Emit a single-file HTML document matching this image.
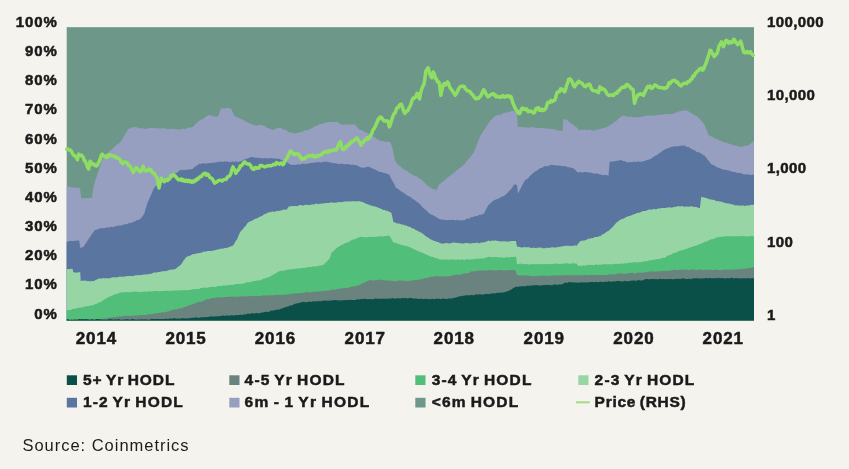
<!DOCTYPE html>
<html><head><meta charset="utf-8"><title>HODL waves</title>
<style>
html,body{margin:0;padding:0;}
body{width:849px;height:469px;background:#f4f3ed;position:relative;overflow:hidden;font-family:"Liberation Sans",sans-serif;color:#1a1a1a;}
.yl{position:absolute;left:0;width:57.7px;text-align:right;font-weight:bold;font-size:15px;letter-spacing:0.9px;line-height:20px;height:20px;}
.yr{position:absolute;left:767px;text-align:left;font-weight:bold;font-size:15px;letter-spacing:0.38px;line-height:20px;height:20px;white-space:nowrap;}
.xl{position:absolute;top:328.8px;width:60px;text-align:center;font-weight:bold;font-size:17px;line-height:20px;letter-spacing:0.85px;}
.yl,.yr,.xl,.lt{-webkit-text-stroke:0.5px #1a1a1a;}
.sq{position:absolute;width:10px;height:10px;}
.lt{position:absolute;font-weight:bold;font-size:15.5px;word-spacing:-1.5px;line-height:20px;white-space:nowrap;transform-origin:0 50%;}
.src{position:absolute;left:22.5px;top:434.5px;font-size:16.5px;letter-spacing:0.97px;line-height:20px;white-space:nowrap;transform-origin:0 50%;color:#1c1c1c;}
#w{position:absolute;left:0;top:0;width:849px;height:469px;filter:blur(0.45px);}
</style></head><body><div id="w">
<svg width="849" height="469" viewBox="0 0 849 469" style="position:absolute;left:0;top:0"><rect x="66.7" y="27.2" width="687.3" height="293.3" fill="#6d9788"/><path d="M66.7,320.5 L66.7,186.4 L67.8,186.2 L69.2,186.7 L70.5,186.9 L71.9,187.5 L73.2,187.5 L74.6,187.6 L76.0,187.7 L77.3,187.4 L78.7,188.2 L80.0,188.0 L81.2,198.3 L82.5,198.2 L83.8,198.4 L85.2,197.9 L86.5,198.1 L87.8,198.6 L89.2,198.0 L90.5,197.9 L91.8,198.3 L93.5,187.0 L94.0,185.0 L95.3,180.6 L96.7,176.4 L98.1,172.2 L99.4,168.0 L100.8,164.2 L102.3,160.0 L103.7,156.5 L105.2,154.8 L106.6,153.8 L108.1,152.4 L109.5,151.3 L111.0,150.0 L112.3,148.9 L113.7,147.8 L115.0,146.4 L116.4,145.1 L117.8,144.2 L119.1,143.2 L120.5,141.8 L121.8,140.5 L123.4,137.1 L125.0,134.5 L126.6,132.1 L128.2,128.8 L129.5,128.8 L130.9,127.9 L132.2,127.4 L133.6,127.3 L134.9,127.0 L136.2,127.3 L137.5,127.4 L138.8,128.4 L140.1,128.5 L141.4,128.2 L142.7,128.0 L144.0,129.0 L145.3,128.8 L146.9,128.6 L148.5,128.6 L150.1,127.8 L151.7,127.7 L153.1,128.1 L154.4,128.2 L155.8,128.2 L157.1,128.3 L158.5,128.4 L159.8,128.3 L161.2,128.8 L162.5,128.1 L163.9,128.5 L165.2,128.6 L166.6,128.8 L168.0,128.9 L169.4,129.2 L170.9,128.6 L172.3,129.0 L173.7,129.1 L175.1,129.1 L176.6,129.4 L178.0,129.5 L179.4,129.4 L180.8,129.3 L182.2,128.9 L183.7,128.6 L185.1,128.9 L186.5,128.5 L187.9,128.1 L189.4,127.4 L190.8,127.4 L192.2,127.3 L193.8,126.0 L195.4,124.0 L197.0,122.7 L198.6,121.3 L199.9,120.5 L201.2,119.4 L202.6,119.2 L203.9,118.5 L205.2,117.2 L206.5,116.3 L207.9,115.6 L209.2,115.0 L210.6,115.5 L212.1,115.4 L213.5,116.2 L214.9,116.7 L216.4,116.3 L217.8,117.0 L219.4,112.9 L221.0,108.5 L222.4,108.6 L223.7,108.5 L225.1,108.4 L226.5,108.0 L227.9,107.8 L229.2,108.4 L230.6,108.0 L232.0,110.4 L233.4,113.7 L234.8,116.0 L236.5,117.1 L238.3,117.6 L240.0,118.5 L241.4,119.2 L242.8,119.8 L244.2,120.5 L245.7,121.8 L247.1,121.9 L248.5,123.0 L250.0,123.3 L251.5,124.5 L253.0,124.4 L254.5,125.2 L256.0,125.6 L257.3,125.4 L258.6,125.2 L260.0,125.1 L261.3,124.5 L262.6,125.4 L264.0,125.7 L265.3,126.4 L266.6,127.6 L268.0,128.2 L269.3,128.5 L270.7,129.0 L272.0,129.9 L273.5,129.4 L275.0,129.3 L276.4,128.3 L277.9,127.7 L279.4,127.7 L280.7,127.9 L282.0,128.5 L283.3,129.7 L284.6,129.6 L286.0,130.1 L287.3,131.2 L288.6,131.9 L289.9,132.5 L291.2,132.6 L292.8,133.2 L294.4,133.4 L296.0,133.2 L297.4,133.1 L298.8,132.8 L300.2,132.0 L301.6,131.9 L303.0,131.2 L304.4,130.4 L305.8,130.1 L307.3,130.3 L308.7,129.4 L310.1,129.0 L311.5,128.3 L312.9,127.7 L314.4,126.8 L315.8,125.7 L317.2,125.7 L318.6,124.7 L320.0,124.0 L321.4,124.3 L322.8,123.6 L324.3,123.1 L325.7,123.1 L327.1,122.2 L328.5,121.9 L329.9,122.1 L331.3,121.6 L332.8,122.2 L334.2,121.7 L335.6,122.2 L337.0,121.9 L338.4,122.5 L339.8,123.6 L341.2,124.4 L342.6,124.7 L344.0,124.4 L345.4,124.6 L346.9,125.1 L348.3,124.6 L349.7,124.3 L351.1,124.5 L352.6,124.6 L354.0,124.6 L355.4,124.7 L356.8,126.5 L358.2,128.2 L359.6,129.7 L361.0,129.9 L362.4,130.5 L363.9,131.2 L365.3,132.4 L366.7,132.4 L368.1,133.2 L369.5,134.3 L370.9,135.1 L372.3,135.6 L373.7,137.0 L375.1,137.5 L376.5,138.7 L378.0,139.6 L379.4,140.6 L380.8,141.0 L382.2,141.2 L383.6,141.0 L385.0,142.0 L386.5,141.4 L387.9,141.7 L389.3,142.0 L390.7,142.4 L392.8,149.5 L394.9,160.0 L396.7,163.5 L398.0,164.6 L399.4,165.9 L400.7,166.6 L402.0,168.2 L403.4,168.9 L404.9,170.1 L406.3,170.6 L407.7,171.6 L409.2,172.9 L410.6,173.6 L411.9,174.3 L413.3,175.3 L414.6,176.1 L416.0,176.0 L417.3,176.7 L418.7,178.2 L420.0,178.5 L421.4,179.7 L422.8,181.1 L424.2,182.1 L425.7,184.1 L427.1,185.1 L428.5,186.4 L430.0,187.3 L431.5,188.3 L433.0,189.1 L434.5,189.3 L436.0,190.6 L437.6,187.7 L439.2,184.2 L440.5,183.4 L441.9,182.3 L443.2,181.3 L444.5,180.4 L445.9,178.7 L447.2,178.1 L448.6,176.7 L449.9,175.7 L451.3,175.0 L452.7,173.7 L454.1,172.6 L455.5,171.6 L457.0,170.1 L458.4,169.1 L459.8,168.0 L461.2,166.9 L462.6,166.1 L463.9,164.3 L465.3,163.2 L466.6,161.1 L468.0,159.5 L469.3,158.3 L470.6,156.6 L472.0,154.7 L473.3,153.3 L474.9,149.7 L476.5,145.5 L478.1,141.3 L479.7,137.3 L481.1,134.6 L482.5,132.7 L483.9,130.1 L485.4,128.2 L486.8,126.1 L488.2,123.5 L489.8,121.4 L491.4,119.4 L493.0,117.9 L494.6,116.0 L495.9,115.9 L497.3,114.8 L498.6,115.1 L500.0,114.8 L501.3,114.4 L502.6,113.3 L504.0,112.8 L505.3,112.8 L506.7,112.6 L508.1,112.0 L509.5,112.1 L511.0,111.1 L512.4,111.3 L513.8,110.7 L515.4,112.1 L517.0,112.8 L517.7,126.7 L519.2,126.9 L520.6,127.0 L522.1,126.8 L523.5,127.2 L525.0,127.2 L526.3,127.7 L527.6,127.4 L528.9,127.7 L530.3,127.0 L531.6,127.4 L532.9,127.1 L534.2,127.8 L535.5,127.7 L536.8,128.1 L538.1,127.5 L539.5,128.2 L540.8,128.1 L542.1,128.0 L543.4,127.9 L544.8,128.4 L546.2,128.6 L547.6,128.4 L549.1,128.6 L550.5,129.3 L551.9,128.8 L553.3,129.3 L554.8,129.3 L556.4,130.2 L557.9,130.3 L559.5,130.5 L561.0,131.0 L562.6,131.0 L563.2,119.4 L564.6,119.3 L566.0,119.6 L567.4,120.1 L568.8,121.5 L570.2,122.7 L571.7,123.9 L573.1,125.1 L574.9,126.3 L576.6,127.2 L578.7,130.0 L580.0,130.3 L581.3,129.6 L582.6,130.3 L583.9,129.6 L585.2,129.8 L586.5,130.3 L587.9,129.6 L589.2,129.8 L590.5,130.0 L591.8,130.4 L593.1,130.4 L594.4,130.4 L595.7,130.0 L597.1,129.7 L598.5,129.6 L599.9,129.0 L601.4,128.6 L602.8,128.3 L604.2,127.8 L605.6,127.6 L607.0,127.2 L608.4,125.9 L609.8,125.2 L611.2,124.5 L612.7,123.5 L614.1,122.3 L615.5,121.5 L616.9,120.4 L618.3,118.7 L619.7,117.7 L621.1,116.8 L622.5,115.2 L623.9,115.9 L625.4,116.0 L626.8,116.6 L628.2,116.8 L629.6,116.9 L631.0,116.5 L632.5,117.2 L633.9,117.2 L635.3,117.1 L636.7,117.4 L638.1,117.3 L639.5,116.8 L640.9,117.1 L642.2,116.7 L643.6,116.4 L645.0,115.9 L646.5,115.7 L648.0,115.5 L649.5,115.4 L651.0,115.7 L652.5,115.6 L654.0,115.3 L655.4,115.6 L656.9,115.2 L658.3,114.8 L659.7,114.5 L661.1,114.9 L662.6,114.5 L664.0,114.5 L665.5,114.1 L666.9,114.2 L668.4,114.4 L669.8,113.9 L671.3,114.0 L672.7,113.9 L674.1,113.2 L675.5,112.4 L676.8,112.4 L678.2,111.5 L679.6,111.6 L681.0,111.0 L682.6,110.6 L684.2,110.6 L685.8,110.5 L687.4,110.7 L688.7,111.3 L690.0,112.6 L691.4,113.4 L692.7,113.8 L694.0,114.9 L695.4,115.7 L696.7,116.3 L698.0,117.0 L699.3,118.8 L700.6,120.3 L701.9,121.6 L703.2,123.0 L704.5,124.5 L706.5,129.9 L708.4,135.1 L710.9,136.2 L712.3,136.9 L713.7,137.5 L715.1,138.6 L716.6,138.9 L718.0,139.6 L719.4,140.5 L720.8,140.8 L722.2,141.4 L723.7,142.4 L725.1,142.6 L726.5,142.8 L727.9,143.0 L729.4,144.0 L730.8,144.0 L732.2,144.8 L733.6,145.2 L735.0,145.4 L736.5,145.8 L737.9,146.2 L739.3,146.2 L740.7,146.9 L742.1,147.0 L743.6,146.0 L745.0,146.0 L746.4,145.4 L747.9,145.4 L749.3,144.8 L750.9,143.3 L752.4,142.4 L754.0,140.5 L754.0,320.5Z" fill="#979fc1"/><path d="M66.7,320.5 L66.7,241.5 L67.9,241.7 L69.3,241.1 L70.7,241.1 L72.1,240.7 L73.6,241.3 L75.0,240.5 L76.4,240.8 L77.8,240.6 L79.2,240.4 L80.3,247.9 L81.9,247.5 L83.5,246.8 L85.1,244.3 L86.7,241.9 L88.3,239.5 L89.9,237.2 L91.2,235.0 L92.6,233.3 L93.9,231.4 L95.2,229.8 L96.7,229.8 L98.2,229.2 L99.6,228.5 L101.1,228.2 L102.6,228.3 L103.9,227.9 L105.2,228.3 L106.5,227.2 L107.9,227.4 L109.2,227.5 L110.5,226.7 L111.8,227.1 L113.1,226.9 L114.4,226.7 L115.8,225.8 L117.1,226.3 L118.4,225.5 L119.7,225.5 L121.1,225.4 L122.5,225.1 L124.0,224.5 L125.4,224.3 L126.8,224.0 L128.2,223.6 L129.7,222.8 L131.1,223.1 L132.5,222.3 L134.0,221.8 L135.5,220.9 L137.0,220.0 L138.5,220.0 L140.0,219.1 L141.4,217.8 L142.8,215.9 L144.2,213.8 L145.8,208.6 L147.4,203.1 L148.8,200.1 L150.3,196.6 L151.7,193.5 L153.3,189.6 L154.9,186.4 L156.4,185.9 L157.9,184.9 L159.3,183.8 L160.8,183.2 L162.3,182.0 L163.7,180.8 L165.1,179.8 L166.5,179.0 L167.9,178.6 L169.4,177.2 L170.8,176.0 L172.2,175.2 L173.6,174.2 L175.0,173.6 L176.5,172.9 L177.9,171.9 L179.4,170.4 L180.8,169.9 L182.2,170.3 L183.7,169.8 L185.1,170.2 L186.5,169.6 L187.9,169.9 L189.4,169.1 L190.8,169.5 L192.2,169.3 L193.8,167.9 L195.4,166.3 L197.0,165.7 L198.6,164.0 L199.9,163.8 L201.2,164.0 L202.5,163.3 L203.8,163.3 L205.1,163.7 L206.4,163.3 L207.7,163.5 L209.0,163.0 L210.3,163.0 L211.6,163.2 L212.9,162.5 L214.2,162.5 L215.5,162.8 L216.8,161.9 L218.1,162.2 L219.4,161.6 L220.7,161.7 L222.0,161.8 L223.4,161.7 L224.8,161.5 L226.2,161.4 L227.5,161.4 L228.9,161.9 L230.3,162.0 L231.7,161.8 L233.1,161.5 L234.5,161.9 L235.8,161.2 L237.2,161.9 L238.6,161.7 L240.0,161.6 L241.3,161.0 L242.7,160.6 L244.0,159.6 L245.3,159.3 L246.7,158.8 L248.0,158.2 L249.4,157.7 L250.7,157.1 L252.0,157.1 L253.3,157.4 L254.7,157.3 L256.0,157.9 L257.3,157.4 L258.6,158.0 L260.0,157.9 L261.3,158.0 L262.6,158.4 L263.9,158.3 L265.2,158.1 L266.6,158.6 L267.9,158.5 L269.2,158.0 L270.5,158.2 L271.8,158.1 L273.1,158.4 L274.5,158.5 L275.8,158.5 L277.1,158.9 L278.4,158.6 L279.9,159.1 L281.4,160.2 L282.8,160.5 L284.3,161.3 L285.8,161.8 L287.1,162.3 L288.5,163.6 L289.9,164.0 L291.2,165.0 L292.5,165.1 L293.9,164.6 L295.2,164.9 L296.5,164.7 L297.8,164.0 L299.1,164.5 L300.5,164.2 L301.8,164.0 L303.1,163.5 L304.5,163.9 L305.8,163.6 L307.1,163.9 L308.5,163.4 L309.8,162.9 L311.2,163.1 L312.5,162.9 L313.9,162.4 L315.3,162.4 L316.8,162.2 L318.2,162.0 L319.6,162.3 L321.0,162.6 L322.5,162.0 L323.9,161.7 L325.3,161.8 L326.6,161.6 L328.0,162.2 L329.3,162.3 L330.6,162.3 L332.0,163.1 L333.3,163.3 L334.7,162.9 L336.0,163.5 L337.4,163.7 L338.7,163.7 L340.1,164.2 L341.5,163.6 L342.8,163.7 L344.2,164.4 L345.6,164.0 L346.9,164.3 L348.3,164.1 L349.6,164.3 L351.0,165.0 L352.4,164.5 L353.7,165.1 L355.1,165.0 L356.6,165.3 L358.1,166.3 L359.6,166.8 L361.1,167.5 L362.6,167.8 L364.0,167.7 L365.3,167.2 L366.6,167.2 L368.0,166.5 L369.3,167.0 L370.6,167.6 L372.0,168.5 L373.3,168.7 L374.6,169.4 L376.0,169.8 L377.3,170.9 L378.6,171.4 L379.9,171.8 L381.3,172.1 L382.6,172.5 L384.0,172.9 L385.3,173.2 L386.6,173.7 L388.0,174.2 L389.3,174.6 L390.9,178.2 L392.5,181.0 L394.1,183.8 L395.7,187.4 L397.3,188.6 L398.9,189.5 L400.4,191.0 L402.0,191.7 L403.6,193.0 L405.2,193.8 L406.8,195.2 L408.4,196.0 L410.0,196.7 L411.6,197.9 L413.2,199.2 L414.8,200.0 L416.5,201.8 L418.3,202.8 L420.0,204.2 L421.4,205.9 L422.8,207.4 L424.2,208.7 L425.7,209.7 L427.1,211.0 L428.5,212.7 L429.8,213.7 L431.2,214.5 L432.5,214.9 L433.9,215.7 L435.2,216.6 L436.5,217.3 L437.9,218.0 L439.2,219.1 L440.5,219.6 L441.9,219.5 L443.2,219.4 L444.5,220.0 L445.9,219.9 L447.2,220.2 L448.6,219.8 L449.9,220.2 L451.3,219.8 L452.7,219.9 L454.1,219.8 L455.5,220.5 L457.0,219.8 L458.4,220.5 L459.8,220.6 L461.2,220.2 L462.6,220.2 L463.9,220.2 L465.3,219.7 L466.6,218.6 L468.0,218.8 L469.3,218.4 L470.6,217.5 L472.0,217.0 L473.3,217.0 L474.6,216.2 L476.0,216.0 L477.3,216.2 L478.6,215.1 L480.0,214.8 L481.3,214.8 L482.7,214.3 L484.0,213.8 L485.4,210.6 L486.8,207.9 L488.2,205.3 L489.8,204.0 L491.4,202.4 L493.0,201.1 L494.6,200.0 L495.9,199.4 L497.3,199.0 L498.6,198.5 L500.0,197.7 L501.3,196.7 L502.6,196.6 L504.0,195.9 L505.3,194.9 L506.6,193.8 L508.0,192.3 L509.3,190.8 L510.6,189.5 L512.0,188.0 L513.5,185.6 L514.9,184.2 L517.0,185.0 L518.0,193.8 L519.4,191.0 L520.9,188.0 L522.3,185.0 L524.5,181.0 L525.8,179.5 L527.1,179.0 L528.5,177.7 L529.8,176.1 L531.1,175.1 L532.5,173.5 L533.8,172.5 L535.1,171.4 L536.5,170.7 L538.0,170.0 L539.4,168.5 L540.8,167.9 L542.3,167.7 L543.7,166.5 L545.1,166.0 L546.5,166.2 L548.0,166.1 L549.4,165.5 L550.8,164.8 L552.2,165.0 L553.6,165.1 L555.0,165.3 L556.5,165.6 L557.9,165.5 L559.3,165.6 L560.7,165.8 L562.2,166.0 L563.6,166.2 L565.0,166.1 L566.4,166.7 L567.8,167.0 L569.2,167.3 L570.7,167.7 L572.1,167.9 L573.5,168.2 L574.9,169.6 L576.4,171.3 L577.8,172.5 L579.2,172.2 L580.6,172.1 L582.0,172.6 L583.5,172.3 L584.9,172.0 L586.3,172.0 L587.7,172.2 L589.0,172.4 L590.4,172.7 L591.8,172.7 L593.1,173.6 L594.5,173.8 L595.9,173.6 L597.3,173.6 L598.6,173.9 L600.0,174.4 L601.4,174.4 L602.8,175.2 L604.2,174.9 L605.7,175.0 L607.1,175.2 L608.5,175.7 L609.6,161.8 L611.1,161.6 L612.5,161.7 L614.0,161.3 L615.5,160.9 L616.9,160.7 L618.4,160.4 L619.8,160.2 L621.3,160.0 L622.9,161.0 L624.5,161.0 L626.1,162.0 L627.7,162.3 L629.1,162.5 L630.4,162.1 L631.8,162.2 L633.1,162.0 L634.5,161.6 L635.8,162.0 L637.2,161.6 L638.5,161.6 L639.9,161.8 L641.2,161.7 L642.6,161.4 L644.0,160.9 L645.5,160.8 L646.9,159.9 L648.3,159.6 L649.8,159.4 L651.2,158.6 L652.6,157.6 L654.0,156.8 L655.5,155.6 L656.9,155.2 L658.3,153.8 L659.7,153.0 L661.2,152.1 L662.6,150.7 L664.0,150.0 L665.4,149.2 L666.8,148.5 L668.2,148.4 L669.7,147.3 L671.1,147.3 L672.5,146.5 L673.9,146.7 L675.3,146.1 L676.8,146.6 L678.2,146.2 L679.6,146.0 L681.0,145.6 L682.5,145.7 L683.9,145.6 L685.3,145.8 L686.7,146.9 L688.1,146.8 L689.5,147.7 L691.0,148.4 L692.4,149.4 L693.8,150.0 L695.1,150.4 L696.5,151.7 L697.8,152.3 L699.1,152.6 L700.5,153.0 L701.8,153.9 L703.2,154.9 L704.5,155.4 L706.1,157.4 L707.7,159.8 L709.3,161.5 L710.9,164.0 L712.3,164.4 L713.7,165.4 L715.1,165.8 L716.6,167.2 L718.0,167.4 L719.4,168.2 L720.8,168.6 L722.2,169.3 L723.7,169.5 L725.1,170.0 L726.5,169.8 L727.9,170.4 L729.4,170.5 L730.8,171.4 L732.2,171.4 L733.6,172.1 L735.0,172.0 L736.5,172.7 L737.9,172.7 L739.3,172.9 L740.7,173.1 L742.2,173.7 L743.6,174.3 L745.0,174.6 L746.5,174.3 L748.0,174.5 L749.5,174.6 L751.0,175.3 L752.5,174.5 L754.0,175.0 L754.0,320.5Z" fill="#5a759f"/><path d="M66.7,320.5 L66.7,269.2 L68.1,269.0 L69.7,269.3 L71.2,268.8 L72.8,269.2 L73.2,272.0 L74.6,272.5 L76.0,272.4 L77.5,272.7 L78.9,272.1 L80.3,272.4 L80.7,281.0 L82.0,280.7 L83.4,280.6 L84.7,280.7 L86.1,280.6 L87.4,281.2 L88.7,280.9 L90.1,281.3 L91.4,281.2 L92.8,280.9 L94.1,281.0 L95.5,280.0 L97.0,279.4 L98.4,278.8 L99.7,278.3 L101.1,278.7 L102.4,278.2 L103.8,278.0 L105.1,278.6 L106.5,278.1 L107.8,278.4 L109.2,278.3 L110.5,278.0 L111.9,277.5 L113.2,277.3 L114.6,277.2 L115.9,277.6 L117.3,277.3 L118.6,277.0 L120.0,276.6 L121.3,276.8 L122.7,276.7 L124.0,276.7 L125.3,276.2 L126.7,276.2 L128.0,276.1 L129.3,276.1 L130.7,276.0 L132.0,276.0 L133.3,276.1 L134.7,275.5 L136.0,275.2 L137.3,275.2 L138.6,275.0 L140.0,275.2 L141.3,275.0 L142.6,274.7 L144.0,274.4 L145.3,274.6 L146.6,274.6 L147.9,274.2 L149.2,274.0 L150.5,273.8 L151.8,273.7 L153.1,272.7 L154.5,272.6 L155.8,272.6 L157.1,272.6 L158.4,272.1 L159.7,271.9 L161.0,271.5 L162.3,271.4 L163.7,270.9 L165.1,271.2 L166.6,271.1 L168.0,270.4 L169.4,270.1 L170.8,269.6 L172.3,269.8 L173.7,269.2 L175.1,269.2 L176.4,268.3 L177.8,266.9 L179.2,266.0 L180.5,265.0 L181.8,263.5 L183.2,261.1 L184.5,259.4 L185.8,257.5 L187.4,256.5 L189.0,255.9 L190.6,255.4 L192.2,254.3 L193.5,254.0 L194.8,254.2 L196.1,253.5 L197.5,253.3 L198.8,253.2 L200.1,252.8 L201.4,252.7 L202.7,252.1 L204.0,251.6 L205.4,251.8 L206.7,251.2 L208.0,251.1 L209.3,251.1 L210.6,250.9 L211.9,250.8 L213.2,250.7 L214.5,250.3 L215.8,249.9 L217.1,249.5 L218.5,249.4 L219.8,248.9 L221.1,248.5 L222.4,248.7 L223.7,248.5 L225.0,248.0 L226.3,247.9 L227.9,247.6 L229.5,246.9 L231.1,246.2 L232.7,245.8 L234.1,244.0 L235.6,241.1 L237.0,239.4 L238.5,235.7 L240.0,232.5 L241.4,230.6 L242.8,229.3 L244.2,227.2 L245.7,226.1 L247.1,223.6 L248.5,222.3 L249.8,221.6 L251.2,220.9 L252.5,220.5 L253.8,219.4 L255.2,218.7 L256.5,218.5 L257.9,217.9 L259.2,217.0 L260.6,216.4 L262.0,215.9 L263.4,214.8 L264.9,214.1 L266.3,213.4 L267.7,212.7 L269.1,212.1 L270.4,212.5 L271.8,211.6 L273.2,211.4 L274.6,211.9 L275.9,211.3 L277.3,210.8 L278.7,211.2 L280.0,210.4 L281.4,210.4 L282.8,209.7 L284.2,209.6 L285.5,209.7 L286.9,209.5 L289.0,206.3 L290.4,206.4 L291.7,205.8 L293.1,206.3 L294.5,206.1 L295.8,206.0 L297.2,206.2 L298.5,205.6 L299.9,205.1 L301.3,205.1 L302.6,205.7 L304.0,205.3 L305.3,204.8 L306.7,204.8 L308.0,205.0 L309.3,205.0 L310.7,204.8 L312.0,204.5 L313.3,204.2 L314.6,204.6 L316.0,203.6 L317.3,203.7 L318.6,204.2 L320.0,203.4 L321.3,203.8 L322.6,203.5 L324.0,203.4 L325.3,203.1 L326.6,203.1 L328.0,202.9 L329.3,203.1 L330.6,202.3 L332.0,202.4 L333.3,202.8 L334.6,202.7 L336.0,202.5 L337.3,202.4 L338.6,202.0 L339.9,202.2 L341.3,202.0 L342.6,202.2 L343.9,201.5 L345.3,201.5 L346.6,201.6 L348.0,201.4 L349.4,201.2 L350.9,201.6 L352.3,201.3 L353.7,200.9 L355.1,201.6 L356.6,201.2 L358.0,201.4 L359.4,201.0 L360.8,201.8 L362.3,202.0 L363.7,202.4 L365.1,203.2 L366.6,204.1 L368.0,204.2 L369.4,204.9 L370.8,205.6 L372.2,205.7 L373.6,206.2 L375.1,206.4 L376.5,207.1 L377.9,207.6 L379.3,208.3 L380.7,208.5 L382.0,209.3 L383.4,209.9 L384.7,209.9 L386.0,210.7 L387.4,210.7 L388.7,211.5 L390.1,212.3 L391.4,212.7 L393.5,222.3 L394.9,222.2 L396.3,223.3 L397.8,223.4 L399.2,223.5 L400.6,224.0 L402.0,224.7 L403.5,224.4 L404.9,225.5 L406.3,225.5 L407.7,226.3 L409.0,226.8 L410.4,227.1 L411.8,228.2 L413.1,228.4 L414.5,229.0 L415.9,230.3 L417.3,230.5 L418.6,231.5 L420.0,231.9 L421.3,232.8 L422.7,233.8 L424.0,234.6 L425.4,235.9 L426.7,236.8 L428.0,237.4 L429.4,238.5 L430.7,239.4 L432.0,239.7 L433.4,240.8 L434.7,240.9 L436.0,241.6 L437.3,242.1 L438.6,242.2 L440.0,242.9 L441.3,243.6 L442.7,243.7 L444.1,243.5 L445.6,243.0 L447.0,242.9 L448.4,243.4 L449.8,243.2 L451.3,243.2 L452.7,242.4 L454.1,242.6 L455.5,242.8 L456.9,242.9 L458.4,243.0 L459.8,243.1 L461.2,243.6 L462.6,243.6 L463.9,243.6 L465.3,243.1 L466.6,243.0 L468.0,243.1 L469.3,243.6 L470.6,243.5 L472.0,243.3 L473.3,243.0 L474.6,243.1 L476.0,243.1 L477.3,242.6 L478.6,243.3 L480.0,243.2 L481.3,242.3 L482.7,242.4 L484.0,242.6 L485.4,241.7 L486.8,241.5 L488.2,240.4 L489.5,240.9 L490.8,241.0 L492.1,240.6 L493.5,240.8 L494.8,240.6 L496.1,240.5 L497.4,241.1 L498.7,241.1 L500.0,241.5 L501.4,241.6 L502.7,241.4 L504.0,241.0 L505.3,241.5 L506.6,241.5 L508.0,241.7 L509.3,241.3 L510.6,241.3 L512.0,241.1 L513.3,241.0 L514.7,240.9 L516.0,240.9 L517.0,246.8 L518.4,246.7 L519.8,247.0 L521.2,247.4 L522.6,247.5 L524.0,246.9 L525.3,247.2 L526.7,247.2 L528.1,247.3 L529.5,247.3 L530.9,247.9 L532.2,248.1 L533.5,247.6 L534.8,248.0 L536.2,248.2 L537.5,247.6 L538.8,247.7 L540.1,247.6 L541.4,247.6 L542.7,248.3 L544.1,248.2 L545.4,248.3 L546.7,247.6 L548.0,247.9 L549.3,247.7 L550.7,247.7 L552.0,247.1 L553.3,247.5 L554.7,247.6 L556.0,247.5 L557.3,247.3 L558.6,246.7 L560.0,247.0 L561.3,246.3 L562.6,246.4 L564.0,245.9 L565.3,245.8 L566.6,245.7 L568.0,245.8 L569.3,245.8 L570.8,246.0 L572.3,245.9 L573.7,245.5 L575.2,245.6 L576.7,245.8 L578.3,243.5 L579.9,241.5 L581.2,240.8 L582.6,240.4 L583.9,240.7 L585.2,240.2 L586.6,239.7 L587.9,238.7 L589.3,238.7 L590.6,238.3 L591.9,238.3 L593.3,238.0 L594.6,237.1 L596.0,237.0 L597.3,236.9 L598.7,236.2 L600.0,236.2 L601.4,235.4 L602.8,234.0 L604.2,233.8 L605.7,232.4 L607.1,231.6 L608.5,230.8 L609.8,229.7 L611.2,228.2 L612.5,227.3 L613.9,225.6 L615.2,224.0 L616.5,222.5 L617.9,221.8 L619.2,220.2 L620.6,219.8 L622.0,218.7 L623.5,218.7 L624.9,217.7 L626.3,217.0 L627.7,216.4 L629.2,216.0 L630.6,215.7 L632.0,214.9 L633.3,214.5 L634.6,213.9 L635.9,213.8 L637.2,212.8 L638.5,213.0 L639.8,212.6 L641.2,212.0 L642.5,211.2 L643.8,211.1 L645.1,211.1 L646.4,210.7 L647.7,210.1 L649.0,209.5 L650.4,209.5 L651.7,209.7 L653.1,208.9 L654.5,209.3 L655.8,209.2 L657.2,209.0 L658.5,208.3 L659.9,208.5 L661.3,207.9 L662.6,207.9 L664.0,208.0 L665.4,208.1 L666.7,207.4 L668.1,207.7 L669.4,207.1 L670.8,207.7 L672.1,207.5 L673.5,207.3 L674.8,206.8 L676.2,207.1 L677.5,206.1 L678.9,206.3 L680.3,206.4 L681.7,205.9 L683.2,206.4 L684.6,206.7 L686.0,206.5 L687.4,206.6 L688.9,206.7 L690.3,206.6 L691.7,206.3 L693.1,206.7 L694.4,207.1 L695.8,206.8 L697.1,207.2 L698.4,207.9 L699.8,208.0 L701.3,196.7 L702.8,197.3 L704.3,197.5 L705.7,198.0 L707.2,198.3 L708.7,198.9 L710.0,199.5 L711.4,199.5 L712.7,199.8 L714.0,200.0 L715.4,200.5 L716.7,201.3 L718.1,201.0 L719.4,201.6 L720.7,201.5 L722.0,202.0 L723.3,202.3 L724.7,203.1 L726.0,203.1 L727.3,203.4 L728.6,203.4 L729.9,203.8 L731.2,204.2 L732.6,204.4 L733.9,204.7 L735.2,205.4 L736.5,205.3 L737.9,205.5 L739.3,205.4 L740.8,205.8 L742.2,205.4 L743.6,205.5 L745.0,205.9 L746.5,205.6 L748.0,205.5 L749.5,205.4 L751.0,204.7 L752.5,204.9 L754.0,204.6 L754.0,320.5Z" fill="#98d5a5"/><path d="M66.7,320.5 L66.7,310.7 L67.9,310.0 L69.3,310.1 L70.7,310.1 L72.1,309.1 L73.6,309.0 L75.0,308.5 L76.4,308.4 L77.8,308.0 L79.2,307.5 L80.6,307.4 L82.0,307.5 L83.5,307.0 L84.9,306.4 L86.3,306.2 L87.7,306.2 L89.2,306.0 L90.6,305.4 L92.0,305.4 L93.4,305.1 L94.8,304.3 L96.2,304.0 L97.7,302.9 L99.1,302.6 L100.5,302.2 L101.9,300.9 L103.3,300.3 L104.8,299.3 L106.2,298.5 L107.6,297.4 L109.0,296.8 L110.3,296.6 L111.7,295.9 L113.0,295.1 L114.3,294.7 L115.7,293.9 L117.0,294.0 L118.4,293.5 L119.7,292.6 L121.0,292.6 L122.4,292.2 L123.7,292.8 L125.1,292.1 L126.4,291.9 L127.8,292.2 L129.1,292.1 L130.5,292.5 L131.8,291.8 L133.2,291.6 L134.5,291.9 L135.9,291.5 L137.2,292.0 L138.6,291.8 L139.9,292.1 L141.3,292.1 L142.6,291.4 L144.0,291.8 L145.3,291.5 L146.6,291.5 L148.0,291.8 L149.3,291.0 L150.6,291.3 L152.0,291.7 L153.3,290.9 L154.6,291.1 L155.9,291.0 L157.3,291.0 L158.6,291.6 L159.9,290.8 L161.3,291.3 L162.6,290.8 L163.9,291.3 L165.3,290.6 L166.6,290.9 L167.9,290.5 L169.3,291.2 L170.6,290.3 L171.9,290.8 L173.3,290.4 L174.6,290.6 L176.0,290.3 L177.3,290.6 L178.6,290.6 L180.0,290.6 L181.3,289.9 L182.7,290.5 L184.0,289.9 L185.3,290.2 L186.7,290.3 L188.0,290.0 L189.3,290.1 L190.7,289.7 L192.0,289.5 L193.3,289.0 L194.7,289.5 L196.0,289.0 L197.3,289.0 L198.7,289.0 L200.0,288.6 L201.3,288.1 L202.6,288.1 L204.0,287.6 L205.3,287.5 L206.6,287.9 L208.0,287.5 L209.3,287.2 L210.6,286.8 L212.0,287.0 L213.3,286.7 L214.6,287.0 L216.0,286.8 L217.3,286.3 L218.6,285.9 L219.9,285.9 L221.3,286.1 L222.6,285.8 L223.9,285.3 L225.3,285.8 L226.6,285.6 L227.9,285.2 L229.3,284.8 L230.6,285.1 L231.9,284.8 L233.3,284.9 L234.6,284.2 L236.0,284.1 L237.3,283.9 L238.7,283.7 L240.0,284.0 L241.3,283.8 L242.7,283.7 L244.0,283.4 L245.3,282.8 L246.7,282.6 L248.0,282.0 L249.3,282.5 L250.7,282.0 L252.0,281.4 L253.3,281.1 L254.6,281.0 L256.0,280.8 L257.3,280.8 L258.6,280.0 L260.0,280.4 L261.3,279.9 L262.6,279.1 L264.0,278.5 L265.3,278.4 L266.6,277.4 L268.0,277.7 L269.3,276.8 L270.7,276.3 L272.0,275.6 L273.6,274.6 L275.2,273.8 L276.8,272.8 L278.4,271.4 L279.8,271.2 L281.2,270.6 L282.7,270.8 L284.1,270.9 L285.5,269.9 L286.9,270.1 L288.4,269.3 L289.8,269.7 L291.2,269.2 L292.6,269.1 L293.9,269.0 L295.3,268.8 L296.7,268.6 L298.1,268.6 L299.4,268.4 L300.8,268.0 L302.2,268.3 L303.5,267.5 L304.9,267.9 L306.3,267.5 L307.7,267.0 L309.0,267.0 L310.4,267.1 L311.8,266.9 L313.2,266.3 L314.7,266.5 L316.1,266.6 L317.5,266.1 L318.9,265.7 L320.4,265.6 L321.8,265.2 L323.2,265.0 L324.8,263.6 L326.4,262.0 L328.0,260.2 L329.6,258.6 L331.7,252.2 L333.1,251.4 L334.5,250.2 L335.9,248.6 L337.4,247.6 L338.8,246.8 L340.2,245.8 L341.6,244.9 L343.0,244.6 L344.5,243.6 L345.9,243.1 L347.3,242.4 L348.7,241.9 L350.2,240.9 L351.6,239.9 L353.0,239.4 L354.4,239.4 L355.8,238.4 L357.2,238.3 L358.7,237.4 L360.1,237.1 L361.5,236.8 L362.9,236.9 L364.2,237.2 L365.6,237.2 L367.0,237.2 L368.3,236.8 L369.7,237.0 L371.0,237.0 L372.4,236.8 L373.8,237.0 L375.1,236.7 L376.5,236.8 L377.9,236.6 L379.3,236.4 L380.8,236.1 L382.2,236.7 L383.6,236.2 L385.0,236.1 L386.5,236.1 L387.9,235.6 L389.3,235.7 L390.7,237.6 L392.1,240.4 L393.5,242.6 L394.9,242.7 L396.3,243.0 L397.8,243.7 L399.2,243.9 L400.6,244.8 L402.0,244.7 L403.5,245.5 L404.9,245.7 L406.3,245.8 L407.7,246.5 L409.0,247.0 L410.4,247.2 L411.8,248.5 L413.1,248.4 L414.5,249.6 L415.9,250.3 L417.3,250.8 L418.6,251.4 L420.0,251.6 L421.3,252.5 L422.7,252.8 L424.0,253.6 L425.4,254.2 L426.7,254.7 L428.0,255.2 L429.4,255.9 L430.7,256.4 L432.0,257.0 L433.4,256.9 L434.7,257.7 L436.0,258.4 L437.3,258.0 L438.6,259.2 L440.0,259.5 L441.3,259.6 L442.6,259.6 L444.0,259.7 L445.3,259.5 L446.6,259.4 L448.0,259.4 L449.3,260.0 L450.6,259.2 L452.0,259.6 L453.3,259.4 L454.6,259.7 L455.9,260.0 L457.3,259.7 L458.6,259.3 L459.9,260.0 L461.3,259.5 L462.6,259.6 L463.9,259.9 L465.3,259.8 L466.6,259.2 L468.0,259.0 L469.3,259.7 L470.6,259.6 L472.0,258.9 L473.3,259.4 L474.6,259.3 L476.0,258.7 L477.3,258.6 L478.6,258.9 L480.0,258.6 L481.3,258.5 L482.7,258.2 L484.0,258.6 L485.4,257.9 L486.8,257.2 L488.2,257.1 L489.5,256.7 L490.8,256.9 L492.1,257.2 L493.5,257.3 L494.8,257.1 L496.1,257.0 L497.4,257.3 L498.7,257.4 L500.0,257.3 L501.4,257.4 L502.7,257.5 L504.0,257.9 L505.3,257.5 L506.6,257.0 L508.0,257.5 L509.3,257.4 L510.6,256.9 L512.0,256.9 L513.3,257.0 L514.7,256.8 L516.0,256.4 L517.0,263.9 L518.4,264.2 L519.8,263.6 L521.2,263.8 L522.6,263.7 L524.0,264.5 L525.3,263.9 L526.7,264.1 L528.1,264.4 L529.5,264.6 L530.9,264.3 L532.2,264.1 L533.5,264.6 L534.8,264.1 L536.2,264.5 L537.5,263.8 L538.8,264.5 L540.1,263.7 L541.4,264.4 L542.7,263.9 L544.1,264.1 L545.4,264.2 L546.7,264.3 L548.0,263.9 L549.3,264.2 L550.7,264.1 L552.0,263.5 L553.3,264.2 L554.7,263.7 L556.0,263.5 L557.3,263.5 L558.6,263.9 L560.0,264.1 L561.3,263.8 L562.6,264.0 L564.0,263.6 L565.3,263.6 L566.6,263.1 L568.0,263.7 L569.3,263.5 L570.8,263.9 L572.3,263.1 L573.7,263.6 L575.2,263.5 L576.7,263.5 L577.8,266.0 L579.2,265.5 L580.6,266.2 L582.1,265.8 L583.5,265.2 L584.9,265.9 L586.3,265.0 L587.8,265.3 L589.2,264.8 L590.6,265.0 L591.9,264.7 L593.3,265.3 L594.6,265.1 L596.0,264.3 L597.3,265.0 L598.7,264.8 L600.0,264.6 L601.3,264.9 L602.7,264.1 L604.0,264.4 L605.3,263.9 L606.7,264.4 L608.0,264.0 L609.3,264.6 L610.6,263.9 L612.0,264.4 L613.3,264.3 L614.6,264.1 L616.0,263.5 L617.3,264.1 L618.6,264.0 L620.0,263.8 L621.3,263.5 L622.6,263.8 L624.0,263.4 L625.3,263.2 L626.6,263.4 L628.0,262.9 L629.3,262.8 L630.6,262.4 L632.0,263.0 L633.3,262.1 L634.6,262.3 L635.9,262.4 L637.3,262.4 L638.6,261.9 L639.9,262.3 L641.3,262.1 L642.6,261.8 L643.9,261.3 L645.3,261.3 L646.6,261.3 L648.0,260.8 L649.3,260.5 L650.6,260.3 L652.0,259.8 L653.3,260.0 L654.6,259.6 L656.0,259.6 L657.3,259.0 L658.6,259.0 L660.0,258.9 L661.3,258.0 L662.7,257.8 L664.0,257.9 L665.4,257.4 L666.8,256.3 L668.2,255.5 L669.7,255.1 L671.1,254.7 L672.5,253.7 L673.9,252.8 L675.3,253.1 L676.8,252.3 L678.2,251.5 L679.6,250.7 L681.0,250.4 L682.5,249.9 L683.9,249.9 L685.3,249.0 L686.7,248.7 L688.1,248.5 L689.5,247.7 L690.9,247.0 L692.4,246.9 L693.8,246.1 L695.2,246.1 L696.6,245.4 L698.0,245.1 L699.4,244.0 L700.9,244.1 L702.3,242.8 L703.7,242.7 L705.2,241.6 L706.6,241.7 L708.0,240.7 L709.5,240.0 L710.9,239.4 L712.3,239.1 L713.7,238.9 L715.1,238.3 L716.6,237.3 L718.0,237.6 L719.4,236.8 L720.8,236.8 L722.2,236.9 L723.7,236.4 L725.1,236.4 L726.5,236.4 L727.9,236.1 L729.4,236.6 L730.8,236.2 L732.2,236.2 L733.6,236.2 L734.9,236.5 L736.3,236.4 L737.7,235.8 L739.0,236.6 L740.4,235.9 L741.7,235.9 L743.1,236.1 L744.5,236.5 L745.8,236.3 L747.2,236.5 L748.5,236.4 L749.9,236.3 L751.3,236.1 L752.6,236.3 L754.0,236.2 L754.0,320.5Z" fill="#51be7a"/><path d="M66.7,320.5 L66.7,319.6 L67.8,319.4 L69.2,319.5 L70.5,319.6 L71.8,319.4 L73.2,319.5 L74.5,319.4 L75.9,319.4 L77.2,319.1 L78.5,319.0 L79.9,319.1 L81.2,319.5 L82.5,318.8 L83.9,319.1 L85.2,319.1 L86.6,319.2 L87.9,319.1 L89.2,319.4 L90.6,319.5 L91.9,319.1 L93.2,318.7 L94.6,319.3 L95.9,319.3 L97.3,318.9 L98.6,319.2 L99.9,319.2 L101.3,319.2 L102.6,318.8 L103.9,318.4 L105.3,318.2 L106.6,318.5 L107.9,317.9 L109.3,317.7 L110.6,317.3 L112.0,317.8 L113.3,317.2 L114.6,316.9 L116.0,317.2 L117.3,316.5 L118.7,317.0 L120.0,316.1 L121.3,316.8 L122.7,315.8 L124.0,316.0 L125.3,315.6 L126.7,315.8 L128.0,316.1 L129.3,315.7 L130.7,315.9 L132.0,315.4 L133.3,315.9 L134.7,315.2 L136.0,315.4 L137.3,315.6 L138.6,315.2 L140.0,314.9 L141.3,315.4 L142.6,314.8 L144.0,315.0 L145.3,315.0 L146.6,314.7 L148.0,314.6 L149.3,314.1 L150.6,314.6 L152.0,314.3 L153.3,313.8 L154.6,313.4 L155.9,313.3 L157.3,313.0 L158.6,312.9 L159.9,312.8 L161.3,312.8 L162.6,312.0 L163.9,312.6 L165.3,312.4 L166.6,311.8 L168.0,311.5 L169.4,311.1 L170.9,310.4 L172.3,310.1 L173.7,309.6 L175.1,309.3 L176.6,309.5 L178.0,308.7 L179.4,308.6 L180.8,308.3 L182.2,307.9 L183.7,307.1 L185.1,306.9 L186.5,306.3 L187.9,305.8 L189.4,305.3 L190.8,304.9 L192.2,304.3 L193.6,303.5 L195.0,303.8 L196.5,302.6 L197.9,302.1 L199.3,301.7 L200.7,301.7 L202.2,301.4 L203.6,300.9 L205.0,300.0 L206.4,299.3 L207.8,299.2 L209.2,299.2 L210.7,298.2 L212.1,298.2 L213.5,297.9 L214.8,297.9 L216.1,297.5 L217.4,297.5 L218.8,297.5 L220.1,297.1 L221.4,297.7 L222.7,297.3 L224.0,296.9 L225.3,297.1 L226.7,296.9 L228.0,297.1 L229.3,296.5 L230.6,296.8 L231.9,296.7 L233.3,296.4 L234.6,296.8 L236.0,296.7 L237.3,296.9 L238.7,296.7 L240.0,296.6 L241.3,296.6 L242.7,296.6 L244.0,296.3 L245.3,296.4 L246.7,296.2 L248.0,296.3 L249.3,296.2 L250.7,295.8 L252.0,295.9 L253.3,296.2 L254.6,295.7 L256.0,295.9 L257.3,296.2 L258.6,295.9 L260.0,296.1 L261.3,295.8 L262.6,295.6 L264.0,295.2 L265.3,295.5 L266.6,295.8 L268.0,295.4 L269.3,295.3 L270.6,295.6 L272.0,295.1 L273.3,295.6 L274.6,295.3 L275.9,294.8 L277.3,295.1 L278.6,295.0 L279.9,294.9 L281.3,294.9 L282.6,294.7 L283.9,294.5 L285.3,294.7 L286.6,294.4 L288.0,294.4 L289.3,294.3 L290.6,294.0 L292.0,293.8 L293.3,293.4 L294.6,293.2 L296.0,293.4 L297.3,293.3 L298.6,293.0 L300.0,293.0 L301.3,293.2 L302.7,293.1 L304.0,292.6 L305.3,292.8 L306.7,292.1 L308.0,292.0 L309.3,292.5 L310.7,292.4 L312.0,291.7 L313.3,292.1 L314.6,291.3 L316.0,291.5 L317.3,291.7 L318.6,291.3 L320.0,291.6 L321.3,291.0 L322.6,290.8 L324.0,290.9 L325.3,290.9 L326.6,290.5 L328.0,290.7 L329.3,290.5 L330.6,289.8 L332.0,289.7 L333.3,289.4 L334.6,290.0 L336.0,289.2 L337.3,288.9 L338.6,288.8 L339.9,288.8 L341.3,288.3 L342.6,288.6 L343.9,288.3 L345.3,287.9 L346.6,287.9 L348.0,288.0 L349.4,287.3 L350.9,287.1 L352.3,286.5 L353.7,286.3 L355.1,286.4 L356.6,285.4 L358.0,285.8 L359.4,285.1 L360.8,284.2 L362.3,283.2 L363.7,282.9 L365.1,282.5 L366.6,281.6 L368.0,280.8 L369.4,280.6 L370.8,280.0 L372.2,280.3 L373.7,280.6 L375.1,280.3 L376.5,279.8 L377.9,280.2 L379.3,279.6 L380.8,279.8 L382.2,280.1 L383.6,280.6 L385.0,280.5 L386.5,280.4 L387.9,280.3 L389.3,280.8 L390.6,280.6 L392.0,280.9 L393.3,280.9 L394.6,281.2 L396.0,280.9 L397.3,281.0 L398.6,280.4 L400.0,280.6 L401.3,280.5 L402.6,280.6 L403.9,281.0 L405.3,280.8 L406.6,281.0 L407.9,281.2 L409.3,280.7 L410.6,280.8 L411.9,280.5 L413.3,280.0 L414.6,280.3 L416.0,280.2 L417.3,280.3 L418.7,279.5 L420.0,279.5 L421.3,278.9 L422.7,279.3 L424.0,278.1 L425.4,277.9 L426.7,277.9 L428.0,277.9 L429.4,276.9 L430.7,276.8 L432.1,276.7 L433.4,276.9 L434.8,276.3 L436.2,276.1 L437.6,276.3 L438.9,276.6 L440.3,276.4 L441.7,276.6 L443.0,276.0 L444.4,276.4 L445.8,276.2 L447.2,276.5 L448.5,276.2 L449.9,275.9 L451.3,275.8 L452.7,275.2 L454.1,275.2 L455.5,274.7 L457.0,274.5 L458.4,274.8 L459.8,274.8 L461.2,274.3 L462.6,274.0 L463.9,273.5 L465.3,273.5 L466.6,273.3 L468.0,273.1 L469.3,272.7 L470.6,271.6 L472.0,271.5 L473.3,271.3 L474.7,271.0 L476.0,271.5 L477.4,270.6 L478.7,270.6 L480.1,270.8 L481.4,270.5 L482.8,270.9 L484.1,270.2 L485.5,270.4 L486.8,270.7 L488.2,270.2 L489.5,270.1 L490.8,270.1 L492.1,270.5 L493.4,270.6 L494.7,270.2 L496.0,270.4 L497.3,270.3 L498.6,270.1 L499.9,270.1 L501.2,269.9 L502.5,270.4 L503.8,270.5 L505.1,270.4 L506.4,270.3 L507.7,270.0 L509.0,270.6 L510.3,269.8 L511.6,270.3 L512.9,269.9 L514.2,270.2 L515.5,270.2 L517.0,274.8 L518.4,275.2 L519.8,275.4 L521.2,275.3 L522.6,275.7 L524.0,275.4 L525.3,275.6 L526.7,275.3 L528.1,275.5 L529.5,276.0 L530.9,276.1 L532.2,276.3 L533.5,276.3 L534.9,275.9 L536.2,276.4 L537.5,275.6 L538.8,275.9 L540.2,275.7 L541.5,275.6 L542.8,275.7 L544.1,276.0 L545.5,275.4 L546.8,275.9 L548.1,275.9 L549.4,275.7 L550.8,275.7 L552.1,275.4 L553.4,275.4 L554.7,275.2 L556.1,275.6 L557.4,275.3 L558.7,275.7 L560.0,275.6 L561.4,275.5 L562.7,275.0 L564.0,275.5 L565.3,275.3 L566.7,275.3 L568.0,275.1 L569.3,275.2 L570.6,275.3 L572.0,274.8 L573.3,275.5 L574.6,274.9 L576.0,275.3 L577.3,274.8 L578.6,275.2 L580.0,275.2 L581.3,275.2 L582.6,275.3 L584.0,274.9 L585.3,275.1 L586.7,275.5 L588.0,275.0 L589.3,275.3 L590.7,274.7 L592.0,274.9 L593.3,274.7 L594.7,274.7 L596.0,275.3 L597.3,275.0 L598.7,275.0 L600.0,275.0 L601.3,275.1 L602.7,274.9 L604.0,274.9 L605.3,275.0 L606.7,274.7 L608.0,274.7 L609.3,274.2 L610.6,274.5 L612.0,274.2 L613.3,274.6 L614.6,274.4 L616.0,273.8 L617.3,273.8 L618.6,273.5 L620.0,273.6 L621.3,273.3 L622.6,273.8 L624.0,273.8 L625.3,273.7 L626.6,273.4 L628.0,273.6 L629.3,273.1 L630.6,272.9 L632.0,272.6 L633.3,273.3 L634.6,273.2 L635.9,273.2 L637.3,272.8 L638.6,272.2 L639.9,273.0 L641.3,272.6 L642.6,272.4 L643.9,272.7 L645.3,271.8 L646.6,272.6 L648.0,271.7 L649.3,271.7 L650.7,271.5 L652.0,271.3 L653.4,271.5 L654.7,271.6 L656.1,271.5 L657.4,271.8 L658.8,271.1 L660.1,271.3 L661.5,270.9 L662.8,271.3 L664.2,270.6 L665.5,271.1 L666.9,271.1 L668.2,270.7 L669.8,270.5 L671.4,270.5 L673.0,270.1 L674.6,269.6 L675.9,269.9 L677.3,270.1 L678.6,270.0 L679.9,269.5 L681.3,269.9 L682.6,269.3 L683.9,269.7 L685.3,269.7 L686.6,269.6 L687.9,269.9 L689.3,270.2 L690.6,269.4 L691.9,269.5 L693.3,269.5 L694.6,269.4 L695.9,270.2 L697.3,270.1 L698.6,269.5 L699.9,269.5 L701.3,269.8 L702.6,270.2 L703.9,269.8 L705.3,269.8 L706.6,269.9 L707.9,270.2 L709.3,269.5 L710.6,269.6 L711.9,270.1 L713.3,270.1 L714.6,269.8 L715.9,269.7 L717.2,269.6 L718.6,270.2 L719.9,270.2 L721.2,270.2 L722.6,269.8 L723.9,269.8 L725.2,269.5 L726.6,269.5 L727.9,269.9 L729.2,269.6 L730.5,270.0 L731.8,269.5 L733.2,269.7 L734.5,269.2 L735.8,269.7 L737.1,269.0 L738.4,269.3 L739.7,269.2 L741.1,268.7 L742.4,269.3 L743.7,268.5 L745.0,268.8 L746.5,268.5 L748.0,268.2 L749.5,267.8 L751.0,268.0 L752.5,267.4 L754.0,267.1 L754.0,320.5Z" fill="#6b837e"/><path d="M66.7,320.5 L66.7,319.5 L67.8,319.1 L69.1,319.7 L70.4,319.9 L71.7,319.4 L73.0,319.9 L74.3,319.4 L75.7,319.6 L77.0,319.9 L78.3,319.2 L79.6,319.1 L80.9,319.2 L82.2,319.0 L83.5,319.4 L84.8,319.1 L86.1,319.1 L87.4,319.3 L88.7,319.4 L90.0,319.8 L91.4,319.0 L92.7,319.6 L94.0,319.8 L95.3,319.6 L96.6,319.1 L97.9,319.1 L99.2,319.3 L100.5,319.0 L101.8,319.8 L103.1,319.6 L104.4,319.7 L105.8,319.5 L107.1,319.8 L108.4,319.3 L109.7,319.0 L111.0,319.3 L112.3,319.3 L113.6,319.7 L114.9,318.9 L116.2,319.7 L117.5,319.2 L118.8,318.9 L120.1,319.5 L121.4,319.7 L122.8,319.5 L124.1,319.6 L125.4,319.3 L126.7,319.3 L128.0,318.9 L129.3,319.7 L130.6,319.4 L131.9,319.0 L133.2,319.1 L134.5,319.4 L135.8,319.5 L137.2,319.7 L138.5,319.3 L139.8,319.4 L141.1,319.5 L142.4,318.9 L143.7,319.7 L145.0,319.3 L146.3,319.2 L147.6,319.7 L148.9,319.5 L150.2,319.5 L151.5,318.8 L152.8,319.1 L154.1,319.1 L155.4,318.9 L156.7,319.0 L158.0,318.8 L159.3,319.0 L160.6,319.1 L161.9,319.0 L163.2,319.1 L164.5,319.1 L165.8,318.6 L167.2,318.9 L168.5,318.9 L169.8,318.3 L171.1,318.8 L172.4,318.6 L173.7,318.2 L175.0,318.3 L176.3,318.7 L177.6,318.6 L178.9,318.5 L180.2,318.8 L181.5,318.5 L182.8,317.9 L184.1,318.4 L185.4,318.3 L186.7,318.5 L188.0,318.2 L189.3,318.2 L190.7,318.2 L192.0,317.5 L193.3,318.0 L194.7,317.5 L196.0,317.3 L197.3,317.8 L198.7,317.7 L200.0,317.8 L201.3,317.1 L202.6,317.6 L204.0,317.2 L205.3,317.1 L206.6,317.2 L208.0,317.1 L209.3,316.7 L210.6,316.2 L212.0,316.6 L213.3,316.5 L214.6,316.5 L216.0,316.2 L217.3,316.6 L218.6,315.9 L219.9,316.3 L221.3,315.7 L222.6,315.5 L223.9,315.4 L225.3,316.1 L226.6,315.2 L227.9,315.4 L229.3,315.7 L230.6,315.4 L231.9,315.1 L233.3,315.6 L234.6,315.4 L236.0,315.0 L237.3,315.1 L238.7,315.2 L240.0,314.8 L241.3,314.8 L242.7,314.9 L244.0,314.3 L245.3,314.4 L246.7,313.9 L248.0,313.6 L249.3,314.1 L250.7,313.6 L252.0,313.2 L253.3,313.6 L254.6,313.6 L256.0,312.9 L257.3,313.0 L258.6,313.4 L260.0,313.0 L261.3,312.8 L262.6,312.2 L263.9,312.5 L265.2,311.8 L266.6,311.7 L267.9,312.0 L269.2,311.8 L270.5,310.7 L271.8,310.4 L273.1,310.8 L274.5,310.3 L275.8,309.8 L277.1,309.7 L278.4,309.6 L279.8,309.5 L281.2,308.4 L282.7,308.3 L284.1,307.8 L285.5,307.1 L286.9,306.8 L288.4,306.5 L289.8,305.5 L291.2,305.4 L292.5,305.1 L293.9,304.2 L295.2,303.8 L296.5,303.5 L297.8,303.3 L299.1,302.9 L300.5,302.6 L301.8,302.2 L303.1,301.8 L304.4,302.3 L305.7,302.0 L307.0,302.2 L308.3,301.8 L309.6,301.5 L310.9,302.0 L312.2,301.6 L313.6,301.3 L314.9,301.5 L316.2,301.3 L317.5,301.4 L318.8,300.8 L320.1,301.4 L321.4,301.0 L322.7,300.8 L324.0,300.4 L325.3,300.7 L326.6,300.4 L328.0,300.9 L329.3,300.5 L330.6,300.6 L332.0,300.6 L333.3,300.3 L334.6,300.0 L336.0,299.9 L337.3,300.6 L338.6,300.3 L339.9,300.5 L341.3,300.4 L342.6,300.3 L343.9,299.9 L345.3,300.2 L346.6,300.0 L347.9,300.0 L349.3,299.9 L350.6,299.7 L352.0,299.9 L353.3,300.0 L354.6,300.0 L356.0,300.0 L357.3,299.1 L358.6,299.5 L360.0,299.3 L361.3,299.1 L362.6,299.3 L364.0,298.8 L365.3,298.7 L366.7,299.3 L368.0,299.0 L369.3,299.3 L370.7,299.0 L372.0,299.2 L373.3,299.3 L374.7,298.5 L376.0,298.6 L377.3,298.8 L378.6,298.6 L380.0,298.9 L381.3,298.7 L382.6,298.5 L384.0,299.0 L385.3,298.4 L386.6,298.7 L388.0,298.7 L389.3,298.5 L390.6,298.8 L392.0,298.1 L393.3,298.3 L394.6,298.8 L396.0,298.4 L397.3,298.2 L398.6,298.3 L400.0,298.4 L401.3,298.3 L402.6,298.0 L403.9,298.2 L405.3,297.8 L406.6,298.3 L407.9,298.4 L409.3,297.8 L410.6,298.1 L411.9,298.0 L413.3,298.6 L414.6,298.7 L416.0,298.3 L417.3,298.9 L418.7,298.8 L420.0,299.0 L421.3,298.6 L422.7,299.2 L424.0,298.7 L425.3,298.9 L426.7,298.7 L428.0,299.2 L429.3,298.9 L430.6,299.4 L432.0,298.6 L433.3,299.0 L434.6,299.2 L436.0,298.6 L437.3,299.1 L438.6,298.6 L440.0,299.1 L441.3,299.0 L442.6,298.6 L444.0,298.5 L445.3,299.0 L446.6,299.1 L448.0,298.8 L449.3,298.3 L450.7,298.8 L452.0,298.5 L453.3,297.8 L454.6,298.1 L456.0,297.3 L457.3,297.3 L458.6,296.4 L460.0,296.2 L461.3,296.2 L462.6,295.8 L463.9,295.8 L465.3,295.6 L466.6,295.2 L468.0,295.3 L469.3,295.2 L470.6,295.2 L472.0,294.8 L473.3,295.4 L474.6,294.7 L476.0,294.5 L477.3,294.5 L478.6,294.5 L480.0,294.3 L481.3,294.4 L482.7,294.7 L484.0,294.3 L485.3,294.0 L486.7,293.8 L488.0,294.2 L489.3,294.1 L490.7,293.6 L492.0,293.7 L493.3,293.1 L494.6,293.4 L496.0,293.2 L497.3,292.5 L498.6,292.9 L500.0,292.6 L501.3,292.6 L502.6,292.7 L504.0,292.3 L505.3,292.1 L506.9,291.4 L508.5,291.1 L510.1,289.9 L511.7,289.4 L513.1,288.1 L514.6,287.6 L516.0,286.6 L517.3,286.9 L518.6,286.5 L520.0,286.6 L521.3,286.3 L522.6,286.3 L524.0,286.3 L525.3,286.2 L526.6,285.7 L527.9,285.6 L529.3,285.9 L530.6,285.6 L532.0,285.5 L533.3,285.3 L534.6,285.2 L536.0,285.2 L537.3,285.1 L538.6,285.6 L540.0,285.5 L541.3,285.6 L542.6,284.9 L544.0,285.3 L545.3,284.8 L546.7,285.0 L548.0,285.1 L549.4,284.7 L550.8,285.3 L552.2,285.3 L553.6,284.6 L555.1,284.4 L556.5,284.6 L557.9,285.0 L559.3,284.3 L560.7,284.5 L562.0,284.3 L563.4,283.7 L564.7,282.7 L566.0,282.6 L567.3,283.0 L568.6,282.1 L569.9,282.2 L571.2,282.3 L572.5,282.3 L573.8,282.5 L575.2,282.5 L576.5,282.4 L577.8,282.8 L579.1,282.8 L580.4,282.2 L581.7,282.6 L583.0,282.6 L584.3,282.3 L585.6,282.6 L586.9,282.5 L588.2,282.2 L589.5,282.3 L590.8,281.9 L592.2,282.0 L593.5,282.1 L594.8,282.2 L596.1,281.6 L597.4,282.4 L598.7,282.0 L600.0,282.0 L601.3,281.6 L602.7,282.3 L604.0,281.9 L605.3,281.6 L606.7,281.9 L608.0,281.3 L609.3,281.3 L610.6,282.1 L612.0,281.4 L613.3,281.4 L614.6,281.6 L616.0,281.3 L617.3,281.1 L618.6,281.1 L620.0,280.9 L621.3,281.6 L622.6,281.5 L624.0,281.0 L625.3,280.7 L626.6,281.5 L628.0,280.9 L629.3,281.2 L630.6,280.7 L632.0,280.5 L633.3,280.6 L634.6,280.4 L635.9,281.0 L637.3,280.3 L638.6,280.3 L639.9,280.2 L641.3,280.4 L642.6,280.5 L644.8,279.2 L646.1,279.1 L647.4,278.9 L648.7,279.6 L650.0,279.1 L651.3,279.0 L652.6,279.0 L653.9,278.9 L655.2,279.2 L656.5,278.9 L657.8,279.4 L659.1,279.0 L660.4,278.8 L661.7,279.2 L663.0,279.1 L664.3,279.1 L665.6,279.3 L666.9,279.1 L668.2,278.9 L669.6,279.3 L670.9,278.7 L672.2,279.2 L673.5,279.2 L674.8,279.1 L676.1,278.9 L677.4,278.8 L678.7,278.6 L680.0,279.3 L681.3,278.5 L682.6,278.6 L683.9,278.6 L685.2,278.7 L686.5,278.9 L687.8,279.1 L689.1,278.5 L690.4,279.2 L691.7,278.8 L693.8,278.2 L695.1,278.2 L696.4,278.3 L697.7,278.2 L699.0,278.6 L700.3,278.4 L701.7,278.5 L703.0,278.3 L704.3,278.5 L705.6,278.1 L706.9,278.0 L708.2,278.6 L709.5,277.8 L710.8,278.4 L712.1,278.0 L713.4,278.4 L714.7,278.1 L716.0,278.3 L717.4,278.1 L718.7,277.8 L720.0,278.4 L721.3,278.0 L722.6,278.1 L723.9,278.6 L725.2,278.4 L726.5,278.2 L727.8,278.0 L729.1,278.6 L730.4,278.1 L731.8,277.8 L733.1,277.9 L734.4,278.5 L735.7,277.9 L737.0,278.1 L738.3,278.4 L739.6,278.3 L740.9,278.6 L742.2,278.3 L743.5,278.2 L744.8,278.3 L746.1,278.6 L747.5,278.2 L748.8,277.9 L750.1,278.6 L751.4,278.3 L752.7,278.2 L754.0,278.2 L754.0,320.5Z" fill="#0b4f49"/><path d="M66.8,149.2 L67.8,148.9 L68.9,150.0 L70.0,149.9 L71.0,150.6 L72.0,152.5 L72.9,154.2 L73.9,155.5 L75.1,155.9 L76.2,157.2 L77.4,159.8 L78.8,154.1 L80.0,155.6 L81.2,155.0 L82.4,156.3 L83.3,157.3 L84.3,160.8 L85.2,161.2 L86.4,163.7 L87.5,167.2 L88.7,169.0 L90.1,161.2 L91.1,162.3 L92.0,163.9 L93.0,164.7 L94.0,164.0 L95.1,165.4 L96.2,166.1 L97.2,165.4 L98.2,163.2 L99.2,161.5 L100.2,159.0 L101.2,155.3 L102.2,154.1 L103.2,155.6 L104.3,156.1 L105.4,156.3 L106.4,157.7 L107.3,155.6 L108.3,156.6 L109.2,154.8 L110.3,154.9 L111.3,155.7 L112.4,156.2 L113.5,155.5 L114.6,156.6 L115.7,157.7 L116.9,157.0 L118.0,158.5 L119.1,158.4 L120.1,159.7 L121.0,162.2 L122.0,162.6 L123.1,163.6 L124.2,161.9 L125.4,162.1 L126.5,162.5 L127.6,163.3 L128.5,165.6 L129.5,165.5 L130.4,166.9 L131.4,169.1 L132.3,170.2 L133.3,172.5 L134.2,170.9 L135.2,169.0 L136.1,167.6 L137.2,168.3 L138.2,169.9 L139.2,171.0 L140.3,171.8 L141.2,170.9 L142.2,168.4 L143.1,166.1 L144.6,170.4 L145.7,171.1 L146.7,170.6 L147.8,170.5 L148.8,169.0 L149.9,170.3 L151.1,169.9 L152.2,172.4 L153.4,173.5 L154.5,173.2 L155.4,175.8 L156.4,176.7 L157.3,178.2 L158.2,183.6 L159.0,188.0 L160.2,182.4 L161.5,178.2 L162.5,180.2 L163.4,180.7 L164.4,181.7 L165.4,180.5 L166.5,179.3 L167.6,180.4 L168.6,178.9 L169.7,179.0 L170.7,175.8 L171.8,176.4 L172.8,174.6 L173.9,175.3 L174.9,175.6 L175.9,176.8 L177.0,178.2 L178.0,179.3 L179.0,180.0 L180.0,179.6 L181.1,178.9 L182.1,180.6 L183.1,179.6 L184.2,181.0 L185.3,181.3 L186.3,180.2 L187.4,181.4 L188.5,180.3 L189.6,181.7 L190.7,180.9 L191.9,182.3 L193.0,181.0 L194.1,181.7 L195.2,180.0 L196.2,180.5 L197.3,178.5 L198.4,178.9 L199.5,177.2 L200.6,176.7 L201.8,176.2 L202.9,174.1 L204.0,173.9 L205.1,173.0 L206.2,175.1 L207.2,174.0 L208.3,174.6 L209.5,176.9 L210.6,178.0 L211.8,178.2 L212.7,179.5 L213.7,181.4 L214.6,183.1 L215.7,182.4 L216.8,182.0 L217.8,181.2 L218.9,180.3 L219.9,180.3 L221.0,180.4 L222.1,181.0 L223.1,179.9 L224.1,179.6 L225.2,179.6 L226.3,179.2 L227.3,177.2 L228.4,176.4 L229.5,176.0 L230.7,174.1 L231.8,170.0 L233.0,166.9 L233.9,169.1 L234.9,169.9 L235.8,173.2 L237.0,171.4 L238.2,170.1 L239.4,168.3 L240.4,165.7 L241.5,165.7 L242.6,164.3 L243.6,162.6 L244.7,161.8 L245.9,163.5 L247.0,163.4 L248.2,164.2 L249.3,164.0 L250.5,165.3 L251.6,167.8 L252.8,169.0 L253.9,169.4 L254.9,167.5 L255.9,167.4 L257.0,168.3 L258.1,168.0 L259.1,168.0 L260.2,165.5 L261.3,165.4 L262.5,165.8 L263.6,166.6 L264.8,166.9 L266.0,166.2 L267.2,166.1 L268.4,165.7 L269.5,165.6 L270.7,165.9 L271.9,165.4 L273.0,164.5 L274.1,164.3 L275.3,164.8 L276.4,162.6 L277.5,163.3 L278.6,163.6 L279.6,164.1 L280.7,163.2 L281.8,163.1 L282.8,164.6 L283.9,164.0 L284.8,161.5 L285.8,159.5 L286.7,158.4 L287.9,155.9 L289.0,154.1 L290.2,151.3 L291.2,151.3 L292.1,152.7 L293.1,154.1 L294.2,153.5 L295.2,154.6 L296.2,153.4 L297.3,153.4 L298.8,154.4 L299.8,156.9 L300.7,156.9 L301.7,159.4 L302.8,158.5 L303.8,158.7 L304.8,158.7 L305.9,157.2 L307.0,156.8 L308.1,156.0 L309.3,155.5 L310.4,156.2 L311.5,155.8 L312.6,155.2 L313.8,156.8 L314.9,157.0 L316.1,155.6 L317.2,156.5 L318.4,155.3 L319.6,155.8 L320.8,154.7 L321.9,154.4 L323.1,152.6 L324.3,152.3 L325.5,151.2 L326.6,151.3 L327.8,152.3 L329.0,150.8 L330.1,150.8 L331.3,150.9 L332.4,150.3 L333.6,149.9 L334.7,149.4 L335.9,150.2 L337.0,148.8 L338.2,145.6 L339.3,142.9 L340.5,141.7 L341.6,146.7 L342.6,149.5 L343.7,149.4 L344.9,148.7 L346.0,146.3 L347.2,146.6 L348.3,144.5 L349.4,144.7 L350.4,142.1 L351.4,142.5 L352.5,141.0 L353.6,141.0 L354.6,139.8 L355.7,138.7 L356.8,137.9 L357.9,139.2 L358.9,141.2 L359.9,142.7 L361.0,145.2 L362.1,142.8 L363.1,142.6 L364.2,140.5 L365.3,139.6 L366.4,139.8 L367.4,137.5 L368.4,139.0 L369.5,137.5 L370.7,135.4 L371.8,133.3 L373.0,129.7 L374.1,128.7 L375.1,126.8 L376.2,124.0 L377.3,121.9 L378.2,119.1 L379.2,119.2 L380.1,117.0 L381.3,117.4 L382.4,118.9 L383.6,120.5 L384.7,121.1 L385.8,120.9 L386.8,120.8 L387.9,121.2 L389.3,126.9 L390.2,125.1 L391.2,121.5 L392.1,118.4 L393.1,115.9 L394.1,113.6 L395.1,112.9 L396.1,109.9 L397.1,107.8 L398.2,107.6 L399.2,105.6 L400.2,104.4 L401.3,104.2 L402.5,107.3 L403.6,111.1 L404.8,113.4 L405.9,111.2 L407.0,111.3 L408.0,110.2 L409.1,107.8 L410.1,106.0 L411.1,103.6 L412.1,100.3 L413.3,97.9 L414.5,98.2 L415.7,96.7 L417.1,93.2 L418.4,96.9 L419.6,98.9 L420.5,93.6 L421.3,90.4 L422.2,87.7 L423.2,85.6 L424.1,84.0 L425.0,77.7 L425.8,71.3 L427.0,69.4 L428.1,67.8 L429.0,70.9 L429.8,74.1 L430.9,76.6 L431.9,77.7 L433.3,72.0 L434.4,74.0 L435.4,78.4 L436.5,79.1 L437.6,81.9 L438.5,81.7 L439.4,83.3 L440.8,95.3 L442.0,89.4 L443.2,85.4 L444.3,83.5 L445.4,84.8 L446.4,83.6 L447.5,81.9 L448.4,83.0 L449.4,86.2 L450.3,88.3 L451.5,89.6 L452.8,91.4 L454.0,93.2 L455.2,95.3 L456.3,93.7 L457.4,91.7 L458.4,89.2 L459.5,87.6 L460.7,86.4 L461.8,86.2 L463.0,86.1 L464.2,86.4 L465.3,88.6 L466.5,89.7 L467.5,91.1 L468.5,91.1 L469.5,91.2 L470.5,92.3 L471.5,93.9 L472.7,94.8 L473.9,96.7 L475.2,98.3 L476.4,98.9 L477.5,97.9 L478.5,98.2 L479.6,97.0 L480.7,96.0 L481.7,93.7 L482.8,91.5 L483.8,89.7 L484.8,91.4 L485.8,93.7 L486.7,94.8 L487.7,96.7 L488.8,96.5 L490.0,95.4 L491.1,94.2 L492.3,94.3 L493.4,93.6 L494.3,95.2 L495.3,94.8 L496.2,97.0 L497.3,96.6 L498.5,96.4 L499.6,97.3 L500.8,97.2 L501.9,96.0 L503.0,95.8 L504.2,97.1 L505.4,97.0 L506.5,95.8 L507.6,96.4 L508.8,95.6 L510.0,97.4 L511.1,96.7 L512.0,99.9 L513.0,103.3 L513.9,105.2 L515.0,108.1 L516.0,109.5 L517.2,111.3 L518.3,112.9 L519.5,113.7 L520.6,111.4 L521.7,108.8 L522.9,108.1 L524.0,109.5 L525.2,109.5 L526.2,108.8 L527.2,109.7 L528.2,111.7 L529.2,111.6 L530.3,110.9 L531.4,111.4 L532.4,111.8 L533.5,113.1 L534.7,112.3 L535.8,109.0 L537.0,108.1 L538.2,107.7 L539.3,110.3 L540.5,110.2 L541.5,109.0 L542.5,110.5 L543.5,109.8 L544.5,109.9 L545.5,108.8 L546.5,106.7 L547.6,102.5 L548.8,102.3 L550.0,102.5 L551.2,100.3 L552.3,101.7 L553.5,100.7 L554.7,100.3 L555.6,98.0 L556.6,93.8 L557.5,91.9 L558.5,91.8 L559.6,91.5 L560.7,88.7 L561.7,89.0 L562.7,89.5 L563.6,91.1 L564.6,91.9 L565.5,89.9 L566.5,85.6 L567.4,83.4 L568.8,79.1 L569.7,78.8 L570.7,79.4 L571.6,80.5 L572.6,82.9 L573.5,85.4 L574.5,86.9 L575.5,85.2 L576.6,83.8 L577.7,82.5 L578.7,81.3 L579.8,81.9 L581.0,83.1 L582.1,83.2 L583.3,85.2 L584.4,86.2 L585.6,86.8 L586.8,84.9 L588.1,85.2 L589.3,84.1 L590.2,85.2 L591.2,88.3 L592.1,89.7 L593.2,90.7 L594.2,90.8 L595.3,90.8 L596.4,91.1 L597.5,91.8 L598.5,92.6 L599.9,86.9 L601.1,87.9 L602.2,89.3 L603.4,89.0 L604.6,89.8 L605.8,91.4 L607.0,94.0 L608.1,94.9 L609.2,95.6 L610.4,94.9 L611.5,95.0 L612.6,95.4 L613.7,95.4 L614.8,93.6 L615.8,93.3 L616.9,93.3 L618.1,91.1 L619.2,90.6 L620.4,89.0 L621.6,87.8 L622.8,86.9 L624.0,87.2 L625.1,87.1 L626.3,84.8 L627.5,84.5 L628.6,86.0 L629.7,86.4 L630.9,88.5 L632.0,88.9 L633.1,89.7 L634.5,103.2 L635.6,99.4 L636.7,96.8 L637.8,95.4 L638.8,94.2 L639.9,94.5 L640.9,93.8 L642.2,94.4 L643.5,95.5 L644.6,92.4 L645.6,90.6 L646.7,88.2 L647.8,86.3 L649.0,87.3 L650.2,86.1 L651.5,88.5 L652.7,87.7 L653.8,86.3 L654.8,84.9 L655.9,85.6 L656.9,85.8 L658.0,87.1 L659.1,87.5 L660.1,87.4 L661.2,87.7 L662.3,87.7 L663.5,88.2 L664.6,88.6 L665.8,87.5 L666.9,87.7 L668.0,85.8 L669.0,82.8 L670.2,83.4 L671.5,81.6 L672.7,80.5 L673.9,80.6 L675.1,80.5 L676.3,82.1 L677.5,82.1 L678.5,83.9 L679.6,84.9 L680.8,85.8 L681.9,85.3 L683.1,83.6 L684.3,83.2 L685.4,83.2 L686.6,83.5 L687.7,81.7 L688.8,81.8 L689.8,81.1 L690.9,79.2 L692.0,78.8 L693.1,75.8 L694.3,75.9 L695.4,73.2 L696.5,72.2 L697.5,71.0 L698.4,70.8 L699.4,69.3 L700.5,68.3 L701.5,68.3 L702.5,70.1 L703.6,69.3 L704.5,66.5 L705.5,64.3 L706.4,62.3 L707.6,58.5 L708.8,54.7 L710.0,50.3 L711.0,50.7 L712.1,53.1 L713.2,54.9 L714.2,56.6 L715.1,55.6 L716.1,54.0 L717.0,53.8 L718.1,49.8 L719.2,45.3 L720.2,44.6 L721.3,41.8 L722.3,44.0 L723.4,46.7 L724.3,44.7 L725.3,41.6 L726.2,40.4 L727.1,40.8 L728.1,42.7 L729.0,43.2 L730.1,41.6 L731.3,42.7 L732.4,42.1 L733.6,39.4 L734.7,39.7 L735.6,42.4 L736.6,42.7 L737.5,44.6 L738.5,44.1 L739.6,42.9 L740.6,41.1 L741.7,44.4 L742.8,49.1 L743.9,52.4 L745.0,52.7 L746.0,52.9 L747.0,51.5 L748.1,52.5 L749.2,52.9 L750.2,51.7 L751.2,53.3 L752.1,54.1 L753.1,55.2" fill="none" stroke="#8ede63" stroke-width="3.5" stroke-linejoin="round" stroke-linecap="round"/><rect x="66.8" y="375.3" width="10.2" height="9.7" fill="#0b4f49"/><rect x="229.3" y="375.3" width="10.2" height="9.7" fill="#6b837e"/><rect x="415.3" y="375.3" width="10.2" height="9.7" fill="#51be7a"/><rect x="578.3" y="375.3" width="10.2" height="9.7" fill="#98d5a5"/><rect x="66.8" y="397.8" width="10.2" height="9.7" fill="#5a759f"/><rect x="229.3" y="397.8" width="10.2" height="9.7" fill="#979fc1"/><rect x="415.3" y="397.8" width="10.2" height="9.7" fill="#6d9788"/><rect x="576" y="401.3" width="13.8" height="2" fill="#a3dc88"/></svg>
<div class="yl" style="top:11.9px">100%</div><div class="yl" style="top:41.0px">90%</div><div class="yl" style="top:70.2px">80%</div><div class="yl" style="top:99.4px">70%</div><div class="yl" style="top:128.5px">60%</div><div class="yl" style="top:157.7px">50%</div><div class="yl" style="top:186.9px">40%</div><div class="yl" style="top:216.0px">30%</div><div class="yl" style="top:245.2px">20%</div><div class="yl" style="top:274.4px">10%</div><div class="yl" style="top:303.6px">0%</div><div class="yr" style="top:12.3px">100,000</div><div class="yr" style="top:85.2px">10,000</div><div class="yr" style="top:158.4px">1,000</div><div class="yr" style="top:231.8px">100</div><div class="yr" style="top:305.4px">1</div><div class="xl" style="left:66.4px">2014</div><div class="xl" style="left:156.0px">2015</div><div class="xl" style="left:245.4px">2016</div><div class="xl" style="left:335.2px">2017</div><div class="xl" style="left:424.2px">2018</div><div class="xl" style="left:514.2px">2019</div><div class="xl" style="left:603.9px">2020</div><div class="xl" style="left:693.2px">2021</div>
<div class="lt" data-w="92.0" style="left:83px;top:370.4px;letter-spacing:0.9px">5+ Yr HODL</div><div class="lt" data-w="100.9" style="left:244.6px;top:370.4px;letter-spacing:1.19px">4-5 Yr HODL</div><div class="lt" data-w="100.6" style="left:431.7px;top:370.4px;letter-spacing:1.17px">3-4 Yr HODL</div><div class="lt" data-w="100.7" style="left:594.6px;top:370.4px;letter-spacing:1.17px">2-3 Yr HODL</div><div class="lt" data-w="100.6" style="left:83px;top:392.1px;letter-spacing:1.17px">1-2 Yr HODL</div><div class="lt" data-w="125.7" style="left:244.6px;top:392.1px;letter-spacing:1.33px">6m - 1 Yr HODL</div><div class="lt" data-w="87.5" style="left:431.7px;top:392.1px;letter-spacing:1.19px">&lt;6m HODL</div><div class="lt" data-w="91.5" style="left:594.6px;top:392.1px;letter-spacing:0.74px">Price (RHS)</div>
<div class="src" data-w="166">Source: Coinmetrics</div>
</div></body></html>
